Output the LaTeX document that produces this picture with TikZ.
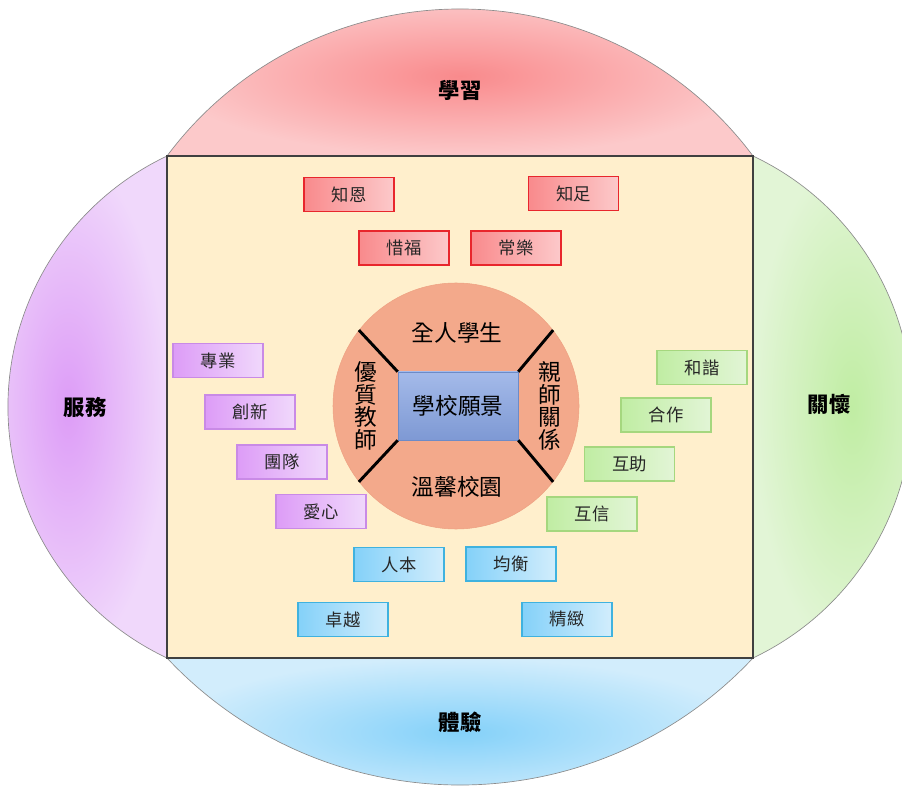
\documentclass[tikz,border=0pt]{standalone}
\usepackage{fontspec}
\newfontfamily\cjk{Noto Sans CJK TC}
\definecolor{redline}{HTML}{E8262C}
\definecolor{reddark}{HTML}{F98A8C}
\definecolor{redlight}{HTML}{FCC9CA}
\definecolor{purpline}{HTML}{C98AE6}
\definecolor{purpdark}{HTML}{DD9CF7}
\definecolor{purplight}{HTML}{F0D8FB}
\definecolor{greenline}{HTML}{A5D77E}
\definecolor{greendark}{HTML}{C0EDA3}
\definecolor{greenlight}{HTML}{E2F5D6}
\definecolor{blueline}{HTML}{3FB2DF}
\definecolor{bluedark}{HTML}{84D1F9}
\definecolor{bluelight}{HTML}{D2EDFC}
\definecolor{cream}{HTML}{FFEFCC}
\definecolor{ring}{HTML}{F3A98B}
\definecolor{ringline}{HTML}{EEA283}
\definecolor{vtop}{HTML}{A4BAE9}
\definecolor{vbottom}{HTML}{7E99D4}
\definecolor{vline}{HTML}{6D8BC7}
\tikzset{
    seg/.style={draw=black!45,line width=0.5pt},
    tag/.style={draw=#1line,line width=1pt,left color=#1dark,right color=#1light,
        minimum width=67.5pt,minimum height=25.5pt,inner sep=0pt,
        text=black!85,font=\cjk\fontsize{13}{15}\selectfont},
    vision/.style={draw=vline,top color=vtop,bottom color=vbottom,
        minimum width=90pt,minimum height=51pt,inner sep=0pt,font=\cjk\fontsize{17}{19}\selectfont},
    part/.style={inner sep=0pt,align=center,font=\cjk\fontsize{17}{17}\selectfont},
    title/.style={font=\cjk\bfseries\fontsize{16}{18}\selectfont},
    bar/.style={line width=2.2pt,black}
}
\newcommand\lobe[5]{
    \shadedraw[seg,inner color=#1dark,outer color=#1light] (#2) arc[start angle=#3,end angle=#4,radius=#5] -- cycle;
}
\begin{document}
\begin{tikzpicture}[x=0.75pt,y=-0.75pt]
            \useasboundingbox (0,0) rectangle (902,787);
            \clip (0,0) rectangle (902,787);
            \lobe{red}{167,156}{-143.29}{-36.71}{365.5}
            \lobe{blue}{167,658}{136.87}{43.13}{401.5}
            \lobe{purp}{167,658}{115.29}{244.71}{277.6}
            \lobe{green}{753,156}{-64.71}{64.71}{277.6}
            \draw[fill=cream,draw=black!75,line width=0.8pt] (167,156) rectangle (753,658);
            \node[title] (learn) at (460,90) {學習};
            \node[title] (serve) at (85,407) {服務};
            \node[title] (care) at (829,404) {關懷};
            \node[title] (exper) at (460,722) {體驗};
            \node[circle,fill=ring,draw=ringline,minimum size=184.5pt,inner sep=0pt] (c) at (456,406) {};
            \node[vision] (v) at (458,406) {學校願景};
            \node[part] (whole) at (457,333) {全人學生};
            \node[part] (warm) at (457,487) {溫馨校園};
            \node[part] (teach) at (366,406) {優\\質\\教\\師};
            \node[part] (kin) at (550,406) {親\\師\\關\\係};
            \draw[bar] (v.north west) -- (c.142);
            \draw[bar] (v.north east) -- (c.38);
            \draw[bar] (v.south west) -- (c.218);
            \draw[bar] (v.south east) -- (c.322);
            \node[tag=red] (r1) at (349,194.5) {知恩};
            \node[tag=red] (r2) at (573.5,193.5) {知足};
            \node[tag=red] (r3) at (404,248) {惜福};
            \node[tag=red] (r4) at (516,248) {常樂};
            \node[tag=purp] (p1) at (218,360.5) {專業};
            \node[tag=purp] (p2) at (250,412) {創新};
            \node[tag=purp] (p3) at (282,462) {團隊};
            \node[tag=purp] (p4) at (321,511.5) {愛心};
            \node[tag=green] (g1) at (702,367.5) {和諧};
            \node[tag=green] (g2) at (666,415) {合作};
            \node[tag=green] (g3) at (629.5,464) {互助};
            \node[tag=green] (g4) at (592,514) {互信};
            \node[tag=blue] (b1) at (399,564.5) {人本};
            \node[tag=blue] (b2) at (511,564) {均衡};
            \node[tag=blue] (b3) at (343,619.5) {卓越};
            \node[tag=blue] (b4) at (567,619.5) {精緻};
        \end{tikzpicture}
\end{document}
